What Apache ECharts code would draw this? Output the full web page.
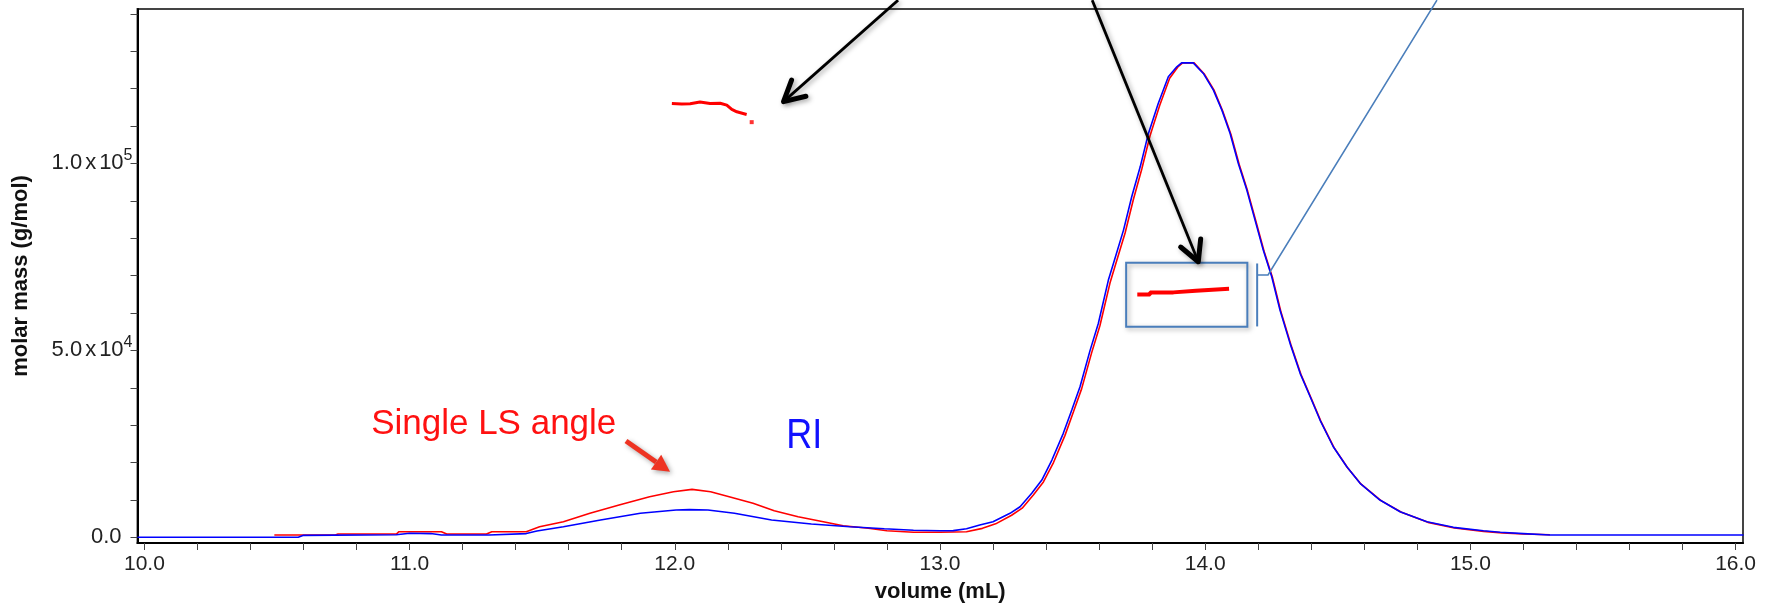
<!DOCTYPE html>
<html><head><meta charset="utf-8">
<script src="https://cdn.jsdelivr.net/npm/echarts@6/dist/echarts.min.js"></script>
<style>html,body{margin:0;padding:0;background:#fff}#c{width:1769px;height:609px}</style>
</head><body><div id="c"></div>
<script>
// ---- data ----
const riVolume = [9.974,10.58,10.6,10.95,11.0,11.08,11.12,11.3,11.44,11.48,11.58,11.72,11.87,12.005,12.055,12.125,12.225,12.365,12.515,12.66,12.79,12.9,13.0,13.05,13.1,13.15,13.2,13.264,13.302,13.346,13.384,13.422,13.465,13.497,13.528,13.566,13.597,13.635,13.654,13.692,13.723,13.755,13.786,13.823,13.861,13.893,13.911,13.955,13.993,14.031,14.063,14.094,14.125,14.157,14.188,14.219,14.251,14.282,14.32,14.358,14.396,14.433,14.483,14.534,14.584,14.659,14.735,14.836,14.936,15.049,15.112,15.2,15.3,16.03];
const riSignal = [0,0,530,700,1070,1000,600,600,1000,1700,2830,4630,6420,7300,7400,7300,6420,4630,3560,2830,2300,1900,1770,1800,2300,3290,4170,6420,8180,11760,15320,20670,27810,34040,40270,50000,57200,68800,73260,82160,91070,99090,108020,116040,123160,125830,126900,126900,124060,119600,114250,108020,100000,92860,84840,76820,69680,60770,51870,43850,37590,31360,24220,18880,14440,9970,6840,4170,2670,1770,1340,1000,620,620];

const lsVolume = [10.49,10.72,10.73,10.95,10.96,11.12,11.14,11.29,11.31,11.44,11.49,11.58,11.68,11.79,11.905,11.995,12.065,12.135,12.205,12.295,12.375,12.465,12.56,12.635,12.73,12.8,12.9,13.0,13.1,13.16,13.21,13.27,13.31,13.352,13.39,13.428,13.471,13.503,13.534,13.572,13.603,13.641,13.66,13.698,13.729,13.761,13.792,13.829,13.866,13.897,13.915,13.958,13.996,14.034,14.066,14.097,14.128,14.16,14.191,14.222,14.254,14.285,14.323,14.361,14.399,14.436,14.486,14.537,14.588,14.663,14.74,14.84,14.94,15.05,15.12,15.2,15.3];
const lsSignal = [615,615,880,880,1500,1500,880,880,1500,1500,2830,4170,6420,8640,10860,12190,12830,12190,10860,9090,7110,5510,4170,3100,2410,1770,1340,1340,1500,2400,3600,5900,7800,11300,14800,20000,27200,33500,39700,49400,56600,68000,72500,81400,90300,98500,107400,115600,122800,125800,126900,126900,124000,119500,114000,107800,99800,92600,84600,76500,69400,60500,51600,43600,37300,31100,24000,18600,14200,9800,6700,4000,2500,1600,1200,900,700];

const aggVolume = [11.989,12.026,12.058,12.095,12.133,12.171,12.196,12.215,12.234,12.271];
const aggMass   = [116040,115900,115960,116400,116040,116100,115590,114440,113800,113100];
const aggLoneVolume = [12.29];
const aggLoneMass   = [111040];

const mainVolume = [13.744,13.792,13.88,13.965,14.09];
const mainMass   = [64970,65510,65940,66470,66470];

const xLabelValues = [10,11,12,13,14,15,16];
const xTickValues = [10,10.2,10.4,10.6,10.8,11,11.2,11.4,11.6,11.8,12,12.2,12.4,12.6,12.8,13,13.2,13.4,13.6,13.8,14,14.2,14.4,14.6,14.8,15,15.2,15.4,15.6,15.8,16];
const yLabelValues = [0,50000,100000];
const yTickValues = [0,10000,20000,30000,40000,50000,60000,70000,80000,90000,100000,110000,120000,130000,140000];

const xTitle = 'volume (mL)';
const yTitle = 'molar mass (g/mol)';
const lsText = 'Single LS angle';
const riText = 'RI';

// ---- chart ----
const pairs = (xs, ys) => xs.map((x, i) => [x, ys[i]]);
const chart = echarts.init(document.getElementById('c'), null, {renderer: 'canvas'});
const FONT = '"Liberation Sans", Arial, sans-serif';

function yFmt(v) {
  if (v === 0) return '0.0{pad|}';
  const e = Math.floor(Math.log10(v) + 1e-9);
  const m = v / Math.pow(10, e);
  return m.toFixed(1) + '{x|x}10{sup|' + e + '}';
}

const option = {
  animation: false,
  backgroundColor: '#fff',
  grid: {left: 137.5, right: 26, top: 9, bottom: 66, show: true, borderColor: '#444', borderWidth: 2, containLabel: false},
  xAxis: {
    type: 'value', min: 9.974, max: 16.028,
    name: xTitle, nameLocation: 'middle', nameGap: 38,
    nameTextStyle: {fontFamily: FONT, fontWeight: 'bold', fontSize: 22, color: '#111'},
    axisLine: {show: true, onZero: false, lineStyle: {color: '#000', width: 2}},
    axisTick: {show: true, length: 7, customValues: xTickValues, lineStyle: {color: '#444', width: 1}},
    axisLabel: {customValues: xLabelValues, margin: 11, fontFamily: FONT, fontSize: 21, color: '#222', formatter: v => v.toFixed(1)},
    splitLine: {show: false}
  },
  yAxis: {
    type: 'value', min: -1520, max: 141300,
    name: yTitle, nameLocation: 'middle', nameGap: 106, nameRotate: 90,
    nameTextStyle: {fontFamily: FONT, fontWeight: 'bold', fontSize: 22, color: '#111'},
    axisLine: {show: true, onZero: false, lineStyle: {color: '#000', width: 2}},
    axisTick: {show: true, length: 7, customValues: yTickValues, lineStyle: {color: '#444', width: 1}},
    axisLabel: {customValues: yLabelValues, margin: 5, fontFamily: FONT, fontSize: 22, color: '#222', formatter: yFmt,
      rich: {
        x: {fontFamily: FONT, fontSize: 22, color: '#222', padding: [0, 3, 0, 3]},
        sup: {fontFamily: FONT, fontSize: 16, color: '#222', padding: [0, 0, 15, 0]},
        pad: {width: 11}
      }},
    splitLine: {show: false}
  },
  series: [
    {name: 'LS', type: 'line', data: pairs(lsVolume, lsSignal), showSymbol: false, lineStyle: {color: '#ff0000', width: 1.6}, z: 2},
    {name: 'RI', type: 'line', data: pairs(riVolume, riSignal), showSymbol: false, lineStyle: {color: '#0000ff', width: 1.6}, z: 3},
    {name: 'Mw agg', type: 'line', data: pairs(aggVolume, aggMass), showSymbol: false, lineStyle: {color: '#ff0000', width: 3}, z: 4},
    {name: 'Mw agg lone', type: 'scatter', data: pairs(aggLoneVolume, aggLoneMass), symbol: 'rect', symbolSize: 4, itemStyle: {color: '#ff0000'}, z: 4},
    {name: 'Mw main', type: 'line', step: 'end', data: pairs(mainVolume, mainMass), showSymbol: false, lineStyle: {color: '#ff0000', width: 4}, z: 4}
  ]
};
chart.setOption(option);

// ---- annotations, positioned in data coordinates ----
const ann = {
  box: [[13.702, 73420], [14.159, 56310]],
  bracket: [[14.196, 73240], [14.196, 56400]],
  leader: [[14.196, 70160], [14.237, 70160], [14.874, 143660]],
  arrow1: [[12.842, 143660], [12.41, 116520]],
  arrow2: [[13.574, 143660], [13.974, 73690]],
  redArrow: [[11.816, 25750], [11.982, 17540]],
  lsLabel: [10.855, 30290],
  riLabel: [12.42, 27090]
};
const P = p => chart.convertToPixel({xAxisIndex: 0, yAxisIndex: 0}, p);
const BLUE = '#4a7ebb';
const g = [];
const shadow = {shadowBlur: 5, shadowOffsetX: 2, shadowOffsetY: 2, shadowColor: 'rgba(0,0,0,0.35)'};

const b0 = P(ann.box[0]), b1 = P(ann.box[1]);
g.push({type: 'rect', shape: {x: b0[0], y: b0[1], width: b1[0] - b0[0], height: b1[1] - b0[1]},
  style: Object.assign({fill: null, stroke: BLUE, lineWidth: 2}, shadow), z: 100});
g.push({type: 'line', shape: {x1: P(ann.bracket[0])[0], y1: P(ann.bracket[0])[1], x2: P(ann.bracket[1])[0], y2: P(ann.bracket[1])[1]},
  style: {stroke: BLUE, lineWidth: 2}, z: 100});
g.push({type: 'polyline', shape: {points: ann.leader.map(P)}, style: {stroke: BLUE, lineWidth: 1.6, fill: null}, z: 100});

function blackArrow(a) {
  const s = P(a[0]), t = P(a[1]);
  const dx = s[0] - t[0], dy = s[1] - t[1], L = Math.hypot(dx, dy);
  const ux = dx / L, uy = dy / L, ang = 28 * Math.PI / 180, len = 23;
  const rot = (c) => [t[0] + len * (ux * Math.cos(c) - uy * Math.sin(c)), t[1] + len * (ux * Math.sin(c) + uy * Math.cos(c))];
  g.push({type: 'line', shape: {x1: s[0], y1: s[1], x2: t[0], y2: t[1]}, style: Object.assign({stroke: '#000', lineWidth: 2.8}, shadow), z: 110});
  g.push({type: 'polyline', shape: {points: [rot(ang), t, rot(-ang)]}, style: Object.assign({stroke: '#000', lineWidth: 5, fill: null, lineJoin: 'round', lineCap: 'round'}, shadow), z: 110});
}
blackArrow(ann.arrow1);
blackArrow(ann.arrow2);

(function redArrow(a) {
  const s = P(a[0]), t = P(a[1]);
  const dx = t[0] - s[0], dy = t[1] - s[1], L = Math.hypot(dx, dy);
  const ux = dx / L, uy = dy / L, hl = 17, hw = 9;
  const base = [t[0] - ux * hl, t[1] - uy * hl];
  g.push({type: 'line', shape: {x1: s[0], y1: s[1], x2: base[0], y2: base[1]}, style: Object.assign({stroke: '#ee3322', lineWidth: 5}, shadow), z: 110});
  g.push({type: 'polygon', shape: {points: [t, [base[0] - uy * hw, base[1] + ux * hw], [base[0] + uy * hw, base[1] - ux * hw]]},
    style: Object.assign({fill: '#ee3322'}, shadow), z: 110});
})(ann.redArrow);

const lp = P(ann.lsLabel), rp = P(ann.riLabel);
g.push({type: 'text', x: lp[0], y: lp[1], style: {text: lsText, fill: '#ff1111', font: '35px ' + FONT, verticalAlign: 'middle', align: 'left'}, z: 120});
g.push({type: 'text', x: rp[0], y: rp[1], scaleY: 1.2, style: {text: riText, fill: '#1111ff', font: '36px ' + FONT, verticalAlign: 'middle', align: 'left'}, z: 120});

chart.setOption({graphic: g});
</script></body></html>
